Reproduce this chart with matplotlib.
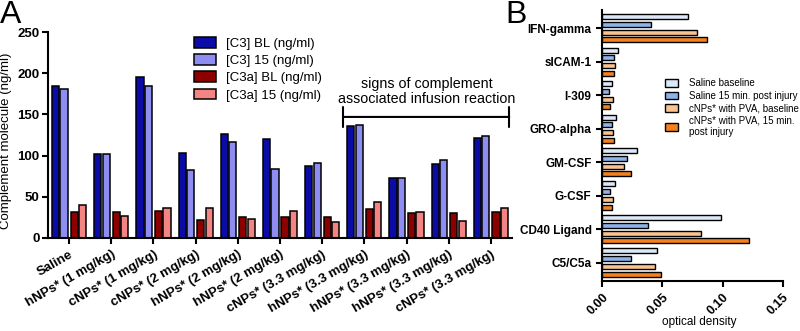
import numpy as np
import matplotlib
matplotlib.use("Agg")
import matplotlib.pyplot as plt

plt.rcParams['font.family'] = ['Liberation Sans', 'DejaVu Sans']

# panel A data
groups_a = ['Saline', 'hNPs* (1 mg/kg)', 'cNPs* (1 mg/kg)', 'cNPs* (2 mg/kg)',
            'hNPs* (2 mg/kg)', 'hNPs* (2 mg/kg)', 'cNPs* (3.3 mg/kg)',
            'hNPs* (3.3 mg/kg)', 'hNPs* (3.3 mg/kg)', 'hNPs* (3.3 mg/kg)',
            'cNPs* (3.3 mg/kg)']
c3_bl = [185, 102, 195, 103, 126, 120, 88, 136, 73, 90, 121]
c3_15 = [181, 102, 185, 83, 117, 84, 91, 137, 73, 95, 124]
c3a_bl = [32, 32, 33, 22, 25, 25, 25, 35, 30, 30, 31]
c3a_15 = [40, 27, 36, 36, 23, 33, 20, 44, 31, 21, 37]
series_a = ['[C3] BL (ng/ml)', '[C3] 15 (ng/ml)', '[C3a] BL (ng/ml)', '[C3a] 15 (ng/ml)']

# panel B data
cyto = ['IFN-gamma', 'sICAM-1', 'I-309', 'GRO-alpha', 'GM-CSF', 'G-CSF',
        'CD40 Ligand', 'C5/C5a']
sal_bl = [0.071, 0.013, 0.008, 0.012, 0.029, 0.011, 0.099, 0.046]
sal_15 = [0.041, 0.010, 0.006, 0.008, 0.021, 0.007, 0.038, 0.024]
cnp_bl = [0.079, 0.011, 0.009, 0.009, 0.018, 0.009, 0.082, 0.044]
cnp_15 = [0.087, 0.010, 0.007, 0.010, 0.024, 0.008, 0.122, 0.049]
series_b = ['Saline baseline', 'Saline 15 min. post injury',
            'cNPs* with PVA, baseline', 'cNPs* with PVA, 15 min.\npost injury']

fig = plt.figure(figsize=(8, 3.31), dpi=100)

# ---- panel A
ax = fig.add_axes([0.06, 0.281, 0.58, 0.622])
x = np.arange(len(groups_a))
cols_a = ['#0b0ba6', '#8e8ef2', '#8c0000', '#f48484']
offs = [-0.32, -0.12, 0.12, 0.32]
for vals, off, c, lab in zip([c3_bl, c3_15, c3a_bl, c3a_15], offs, cols_a, series_a):
    ax.bar(x + off, vals, width=0.17, color=c, edgecolor='black', linewidth=1.1, label=lab)
ax.set_xlim(-0.5, len(groups_a) - 0.5)
ax.set_ylim(0, 250)
ax.set_yticks([0, 50, 100, 150, 200, 250])
ax.set_xticks(x)
ax.set_xticklabels(groups_a, rotation=30, ha='right', rotation_mode='anchor',
                   fontweight='bold', fontsize=9.5)
for t in ax.get_yticklabels():
    t.set_fontweight('bold')
    t.set_fontsize(9.5)
ax.set_ylabel('Complement molecule (ng/ml)', fontsize=9.5)
ax.yaxis.set_label_coords(-0.078, 0.47)
for s in ['top', 'right']:
    ax.spines[s].set_visible(False)
for s in ['left', 'bottom']:
    ax.spines[s].set_linewidth(1.5)
ax.tick_params(width=1.5, length=4)
ax.tick_params(axis='y', pad=2)
ax.legend(loc='upper left', bbox_to_anchor=(0.29, 1.035), frameon=False, fontsize=9.5,
          handlelength=1.6, handleheight=0.9, labelspacing=0.32)
ax.annotate('', xy=(6.43, 147), xytext=(10.5, 147),
            arrowprops=dict(arrowstyle='|-|', lw=1.5, mutation_scale=7))
ax.text(8.48, 178, 'signs of complement\nassociated infusion reaction',
        ha='center', va='center', fontsize=10.3, linespacing=1.1)
fig.text(0.0, 0.93, 'A', fontsize=23, va='baseline')

# ---- panel B
bx = fig.add_axes([0.7525, 0.151, 0.226, 0.819])
y = np.arange(len(cyto))
cols_b = ['#dce8f8', '#8db4ea', '#f9c28e', '#f5801e']
offs_b = [-0.35, -0.115, 0.12, 0.345]
for vals, off, c, lab in zip([sal_bl, sal_15, cnp_bl, cnp_15], offs_b, cols_b, series_b):
    bx.barh(y + off, vals, height=0.15, color=c, edgecolor='black', linewidth=1.0, label=lab)
bx.set_ylim(len(cyto) - 0.45, -0.55)
bx.set_xlim(0, 0.15)
bx.set_xticks([0, 0.05, 0.10, 0.15])
bx.set_xticklabels(['0.00', '0.05', '0.10', '0.15'], rotation=45, ha='right',
                   rotation_mode='anchor', fontweight='bold', fontsize=9)
bx.set_yticks(y)
bx.set_yticklabels(cyto, fontweight='bold', fontsize=8.5)
bx.set_xlabel('optical density', fontsize=8.5, va='center')
bx.xaxis.set_label_coords(0.54, -0.152)
for s in ['top', 'right']:
    bx.spines[s].set_visible(False)
for s in ['left', 'bottom']:
    bx.spines[s].set_linewidth(1.5)
bx.tick_params(width=1.5, length=4)
bx.legend(loc='upper left', bbox_to_anchor=(0.826, 0.775), bbox_transform=fig.transFigure,
          frameon=False, fontsize=7, handlelength=1.4, handleheight=0.8,
          labelspacing=0.25, borderaxespad=0, handletextpad=1.1)
fig.text(0.632, 0.93, 'B', fontsize=23, va='baseline')

fig.savefig('out.png', dpi=100)
